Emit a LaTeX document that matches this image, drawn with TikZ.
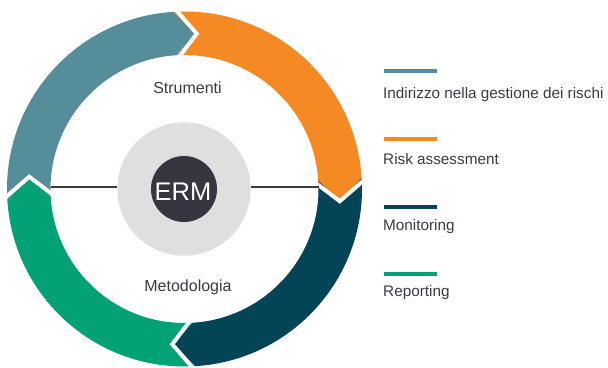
\documentclass[tikz,border=0pt]{standalone}
\usepackage{fontspec}
\setmainfont{Liberation Sans}
\definecolor{cblue}{HTML}{558D9B}
\definecolor{corange}{HTML}{F58A24}
\definecolor{cteal}{HTML}{034457}
\definecolor{cgreen}{HTML}{03A276}
\definecolor{cgray}{HTML}{DEE0DF}
\definecolor{cdark}{HTML}{363540}
\definecolor{ctext}{HTML}{3A3A44}
\newcommand\Ro{177.5}
\newcommand\Ri{134}
\newcommand\Rm{155.75}
\newcommand\ringseg[3]{%
  \fill[#3] (#1+3.5:\Ro pt) arc[start angle=#1+3.5, end angle=#2+3.5, radius=\Ro pt]
    -- (#2-4.5:\Rm pt) -- (#2+3.5:\Ri pt)
    arc[start angle=#2+3.5, end angle=#1+3.5, radius=\Ri pt]
    -- (#1-4.5:\Rm pt) -- cycle;}
\newcommand\ringgap[1]{%
  \draw[gapline] (#1+3.5:\Ro pt+5pt) -- (#1-4.5:\Rm pt) -- (#1+3.5:\Ri pt-5pt);}
\tikzset{
  gapline/.style={white, line width=4pt, miter limit=10},
  legline/.style={line width=4pt},
  legtext/.style={anchor=base west, inner sep=0pt, text=ctext, font=\fontsize{15.3}{18}\selectfont},
  innertext/.style={anchor=base, inner sep=0pt, text=ctext, font=\fontsize{16}{19}\selectfont},
  spoke/.style={ctext, line width=2pt}
}
\begin{document}
\begin{tikzpicture}[x=1pt,y=1pt]
\useasboundingbox (0,0) rectangle (608,367);
\begin{scope}[shift={(184.5,178)}]
  \ringseg{180}{90}{cblue}
  \ringseg{90}{0}{corange}
  \ringseg{0}{-90}{cteal}
  \ringseg{-90}{-180}{cgreen}
  \ringgap{90}
  \ringgap{0}
  \ringgap{-90}
  \ringgap{180}
\end{scope}
\node[circle, fill=cgray, minimum size=133.5pt, inner sep=0pt] (core) at (184,178) {};
\node[circle, fill=cdark, minimum size=66pt, inner sep=0pt] (erm) at (184,178) {};
\node[anchor=base, inner sep=0pt, text=white, font=\fontsize{25.5}{28}\selectfont] (ermt) at (183,166.5) {ERM};
\coordinate (lleft) at (50.5,179.7);
\coordinate (lright) at (318.5,179.7);
\draw[spoke] (lleft) -- (lleft -| core.west);
\draw[spoke] (lright) -- (lright -| core.east);
\node[innertext] (strum) at (187.5,273) {Strumenti};
\node[innertext] (metod) at (188,75.5) {Metodologia};
\draw[legline, cblue] (384,296) -- (437,296);
\draw[legline, corange] (384,228) -- (437,228);
\draw[legline, cteal] (384,160.3) -- (437,160.3);
\draw[legline, cgreen] (384,93) -- (437,93);
\node[legtext] (l1) at (383,268) {Indirizzo nella gestione dei rischi};
\node[legtext] (l2) at (383,202.5) {Risk assessment};
\node[legtext] (l3) at (383,136.5) {Monitoring};
\node[legtext] (l4) at (383,70.3) {Reporting};
\end{tikzpicture}
\end{document}
